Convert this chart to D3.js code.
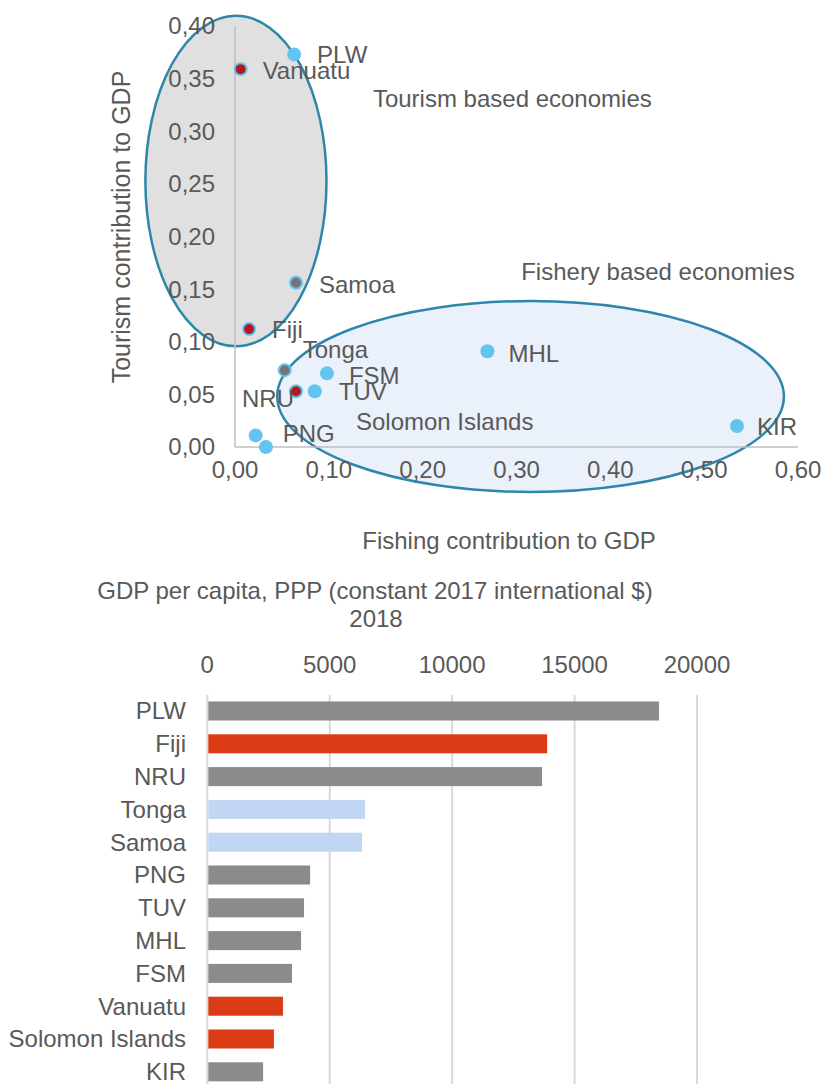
<!DOCTYPE html>
<meta charset="utf-8">
<style>
    body { margin: 0; background: #fff; }
    svg text { font-family: "Liberation Sans", Arial, sans-serif; fill: #595959; font-size: 24px; }
    .axis line, .axis path { stroke: #bfbfbf; stroke-width: 1.5px; }
    .grid line { stroke: #d9d9d9; stroke-width: 2px; }
</style>
<svg width="840" height="1084"></svg>
<script src="https://d3js.org/d3.v7.min.js"></script>
<script>
    // scatter: fishing vs tourism share of GDP
    var countries = ["PLW", "Vanuatu", "Samoa", "Fiji", "Tonga", "NRU", "TUV", "FSM", "PNG", "Solomon Islands", "MHL", "KIR"];
    var fishing = [0.063, 0.006, 0.065, 0.015, 0.053, 0.065, 0.085, 0.098, 0.022, 0.033, 0.269, 0.535];
    var tourism = [0.373, 0.359, 0.156, 0.112, 0.073, 0.053, 0.053, 0.070, 0.011, 0.000, 0.091, 0.020];
    var xTicks = [0, 0.1, 0.2, 0.3, 0.4, 0.5, 0.6];
    var yTicks = [0, 0.05, 0.1, 0.15, 0.2, 0.25, 0.3, 0.35, 0.4];

    // bar chart: GDP per capita 2018
    var barCountries = ["PLW", "Fiji", "NRU", "Tonga", "Samoa", "PNG", "TUV", "MHL", "FSM", "Vanuatu", "Solomon Islands", "KIR"];
    var gdp = [18450, 13880, 13670, 6440, 6320, 4200, 3950, 3830, 3460, 3090, 2720, 2280];
    var gdpTicks = [0, 5000, 10000, 15000, 20000];

    var svg = d3.select("svg");
    var comma = function (v) { return d3.format(".2f")(v).replace(".", ","); };

    /** scatter **/
    var x = d3.scaleLinear().domain([0, 0.6]).range([235, 798]);
    var y = d3.scaleLinear().domain([0, 0.4]).range([447, 26]);

    // highlighted groups (ellipses in data units)
    var groups = [
        {cx: 0.001, cy: 0.2527, rx: 0.0965, ry: 0.157, fill: "#e0e0e0"},
        {cx: 0.315, cy: 0.048, rx: 0.270, ry: 0.0907, fill: "#ebf1fa"}
    ];
    svg.append("g").selectAll("ellipse")
        .data(groups)
        .enter()
        .append("ellipse")
        .attr("cx", function (d) { return x(d.cx); })
        .attr("cy", function (d) { return y(d.cy); })
        .attr("rx", function (d) { return x(d.rx) - x(0); })
        .attr("ry", function (d) { return y(0) - y(d.ry); })
        .attr("fill", function (d) { return d.fill; })
        .attr("stroke", "#2e86ab")
        .attr("stroke-width", 2.5);

    var yAxis = svg.append("g").attr("class", "axis");
    yAxis.append("line")
        .attr("x1", x(0)).attr("x2", x(0))
        .attr("y1", y(0.4)).attr("y2", y(0));
    yAxis.selectAll("text")
        .data(yTicks)
        .enter()
        .append("text")
        .attr("x", x(0) - 20)
        .attr("y", function (d) { return y(d); })
        .attr("dy", "0.35em")
        .attr("text-anchor", "end")
        .text(comma);

    var xAxis = svg.append("g").attr("class", "axis");
    xAxis.append("line")
        .attr("x1", x(0)).attr("x2", x(0.6))
        .attr("y1", y(0)).attr("y2", y(0));
    xAxis.selectAll("text")
        .data(xTicks)
        .enter()
        .append("text")
        .attr("x", function (d) { return x(d); })
        .attr("y", y(0) + 23)
        .attr("dy", "0.35em")
        .attr("text-anchor", "middle")
        .text(comma);

    svg.append("text")
        .attr("transform", "translate(121,227) rotate(-90)")
        .attr("dy", "0.35em")
        .attr("text-anchor", "middle")
        .style("font-size", "25px")
        .text("Tourism contribution to GDP");
    svg.append("text")
        .attr("x", 509).attr("y", 541)
        .attr("dy", "0.35em")
        .attr("text-anchor", "middle")
        .text("Fishing contribution to GDP");

    var notes = [
        {text: "Tourism based economies", fx: 0.147, ty: 0.331},
        {text: "Fishery based economies", fx: 0.305, ty: 0.167}
    ];
    svg.append("g").selectAll("text")
        .data(notes)
        .enter()
        .append("text")
        .attr("x", function (d) { return x(d.fx); })
        .attr("y", function (d) { return y(d.ty); })
        .attr("dy", "0.35em")
        .text(function (d) { return d.text; });

    var pts = countries.map(function (c, i) { return {name: c, fx: fishing[i], ty: tourism[i]}; });

    // inner colour for the ringed markers
    var inner = {"Vanuatu": "#b3191f", "Fiji": "#b3191f", "NRU": "#b3191f", "Samoa": "#747474", "Tonga": "#747474"};
    // label offset from the point, px
    var lab = {
        "PLW": [23, 0], "Vanuatu": [22, 1], "Samoa": [23, 2], "Fiji": [23, 0], "Tonga": [18, -21],
        "NRU": [-54, 7], "TUV": [24, 0], "FSM": [22, 2], "PNG": [27, -2], "Solomon Islands": [90, -25],
        "MHL": [21, 2], "KIR": [20, 1]
    };

    var node = svg.append("g").selectAll("g")
        .data(pts)
        .enter()
        .append("g")
        .attr("transform", function (d) { return "translate(" + x(d.fx) + "," + y(d.ty) + ")"; });
    node.append("circle")
        .attr("r", function (d) { return inner[d.name] ? 6 : 7; })
        .attr("fill", function (d) { return inner[d.name] || "#62c4f0"; })
        .attr("stroke", function (d) { return inner[d.name] ? "#62c4f0" : "none"; })
        .attr("stroke-width", 2);
    node.append("text")
        .attr("x", function (d) { return lab[d.name][0]; })
        .attr("y", function (d) { return lab[d.name][1]; })
        .attr("dy", "0.35em")
        .text(function (d) { return d.name; });

    /** bar chart **/
    var bx = d3.scaleLinear().domain([0, 20000]).range([207.3, 697]);
    var by = d3.scaleBand().domain(barCountries).range([694.6, 1088.2])
        .paddingInner(0.42).paddingOuter(0.21);

    var barColour = {"Fiji": "#db3b15", "Vanuatu": "#db3b15", "Solomon Islands": "#db3b15", "Tonga": "#c1d6f2", "Samoa": "#c1d6f2"};

    svg.append("text")
        .attr("x", 375).attr("y", 591)
        .attr("dy", "0.35em")
        .attr("text-anchor", "middle")
        .text("GDP per capita, PPP (constant 2017 international $)");
    svg.append("text")
        .attr("x", 376).attr("y", 619)
        .attr("dy", "0.35em")
        .attr("text-anchor", "middle")
        .text("2018");

    var grid = svg.append("g").attr("class", "grid");
    grid.selectAll("line")
        .data(gdpTicks)
        .enter()
        .append("line")
        .attr("x1", function (d) { return bx(d); })
        .attr("x2", function (d) { return bx(d); })
        .attr("y1", 695).attr("y2", 1084);
    grid.selectAll("text")
        .data(gdpTicks)
        .enter()
        .append("text")
        .attr("x", function (d) { return bx(d); })
        .attr("y", 665)
        .attr("dy", "0.35em")
        .attr("text-anchor", "middle")
        .text(function (d) { return d; });

    svg.append("g").selectAll("rect")
        .data(barCountries)
        .enter()
        .append("rect")
        .attr("x", bx(0) + 1)
        .attr("y", function (d) { return by(d); })
        .attr("width", function (d, i) { return bx(gdp[i]) - bx(0) - 1; })
        .attr("height", by.bandwidth())
        .attr("fill", function (d) { return barColour[d] || "#8c8b8b"; });

    svg.append("g").selectAll("text")
        .data(barCountries)
        .enter()
        .append("text")
        .attr("x", 186)
        .attr("y", function (d) { return by(d) + by.bandwidth() / 2; })
        .attr("dy", "0.35em")
        .attr("text-anchor", "end")
        .text(function (d) { return d; });
</script>
